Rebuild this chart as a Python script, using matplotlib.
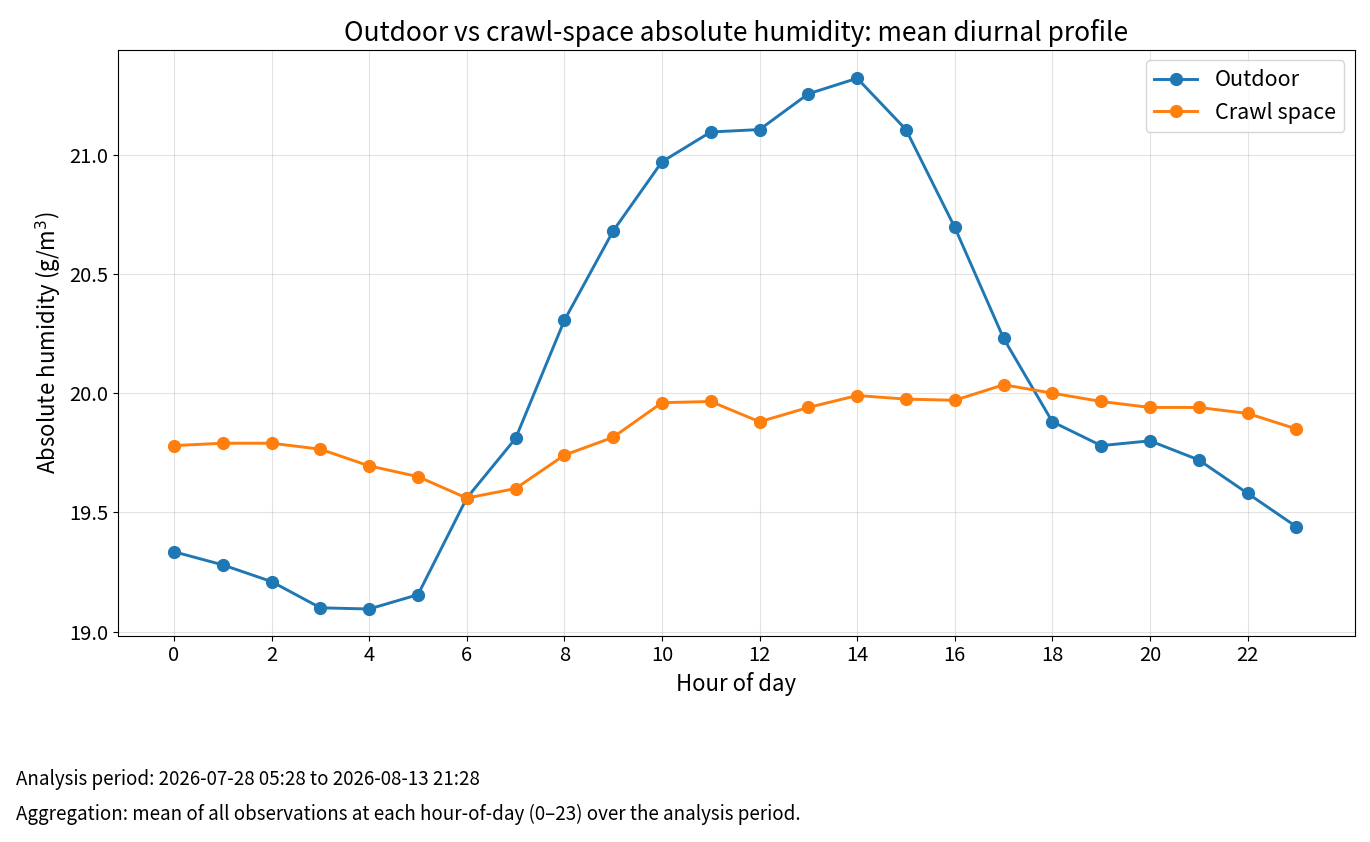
import matplotlib
matplotlib.use("Agg")
import matplotlib.pyplot as plt

plt.rcParams["font.family"] = ["Noto Sans CJK JP", "DejaVu Sans"]

hours = list(range(24))
outdoor = [19.335, 19.28, 19.21, 19.10, 19.095, 19.155, 19.56, 19.81, 20.305, 20.68,
           20.97, 21.095, 21.105, 21.255, 21.32, 21.105, 20.695, 20.23, 19.88, 19.78,
           19.80, 19.72, 19.58, 19.44]
crawl = [19.78, 19.79, 19.79, 19.765, 19.695, 19.65, 19.56, 19.60, 19.74, 19.815,
         19.96, 19.965, 19.88, 19.94, 19.99, 19.975, 19.97, 20.035, 20.0, 19.965,
         19.94, 19.94, 19.915, 19.85]

fig = plt.figure(figsize=(13.7, 8.42), dpi=100)
ax = fig.add_axes([0.086, 0.245, 0.903, 0.696])
ax.plot(hours, outdoor, marker="o", ms=8.5, lw=2.1, color="#1f77b4", label="Outdoor")
ax.plot(hours, crawl, marker="o", ms=8.5, lw=2.1, color="#ff7f0e", label="Crawl space")
ax.set_xticks(range(0, 24, 2))
ax.set_xlim(-1.15, 24.2)
ax.set_ylim(18.983, 21.44)
ax.set_yticks([19.0, 19.5, 20.0, 20.5, 21.0])
ax.tick_params(labelsize=14.5)
ax.grid(alpha=0.35)
ax.set_xlabel("Hour of day", fontsize=16)
ax.set_ylabel("Absolute humidity (g/m$^3$)", fontsize=16)
ax.set_title("Outdoor vs crawl-space absolute humidity: mean diurnal profile", fontsize=19)
ax.legend(fontsize=15.5, loc="upper right")

fig.text(16 / 1370, 1 - 780 / 842, "Analysis period: 2026-07-28 05:28 to 2026-08-13 21:28",
         fontsize=13.5, va="center")
fig.text(16 / 1370, 1 - 814 / 842,
         "Aggregation: mean of all observations at each hour-of-day (0–23) over the analysis period.",
         fontsize=13.5, va="center")

fig.savefig("out.png", dpi=100)
